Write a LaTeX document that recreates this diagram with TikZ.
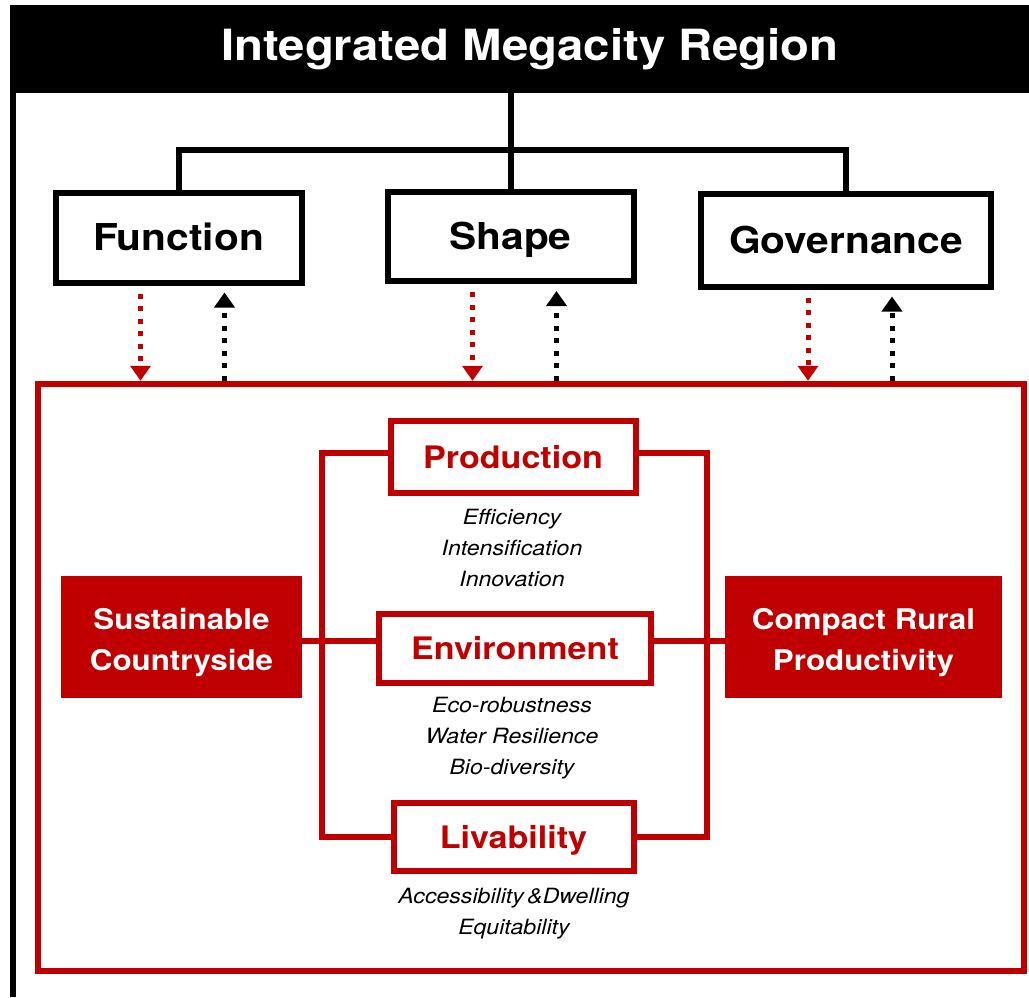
\documentclass[tikz,border=0pt]{standalone}
\usepackage{fontspec}
\setmainfont{TeX Gyre Heros}[FakeStretch=1.1]
\usetikzlibrary{arrows.meta,calc}
\definecolor{dred}{RGB}{192,0,0}
\begin{document}
\begin{tikzpicture}[x=1pt,y=-1pt,
  bbox/.style={draw=black,line width=6pt,fill=white,inner sep=0pt,text height=26.6pt,text depth=0pt,font=\fontsize{37}{44}\selectfont\bfseries},
  rbox/.style={draw=dred,line width=6pt,fill=white,inner sep=0pt,text=dred,text height=22.3pt,text depth=0pt,font=\fontsize{31}{36}\selectfont\bfseries},
  fbox/.style={fill=dred,inner sep=0pt,text=white,align=center,text height=66pt,text depth=0pt,font=\fontsize{28.5}{41}\selectfont\bfseries},
  itl/.style={align=center,font=\fontsize{21}{31}\selectfont\itshape},
  blk/.style={line width=6pt,black},
  rln/.style={line width=6pt,dred},
  reddown/.style={line width=5pt,dred,dash pattern=on 5pt off 7.5pt,-{Triangle[width=20pt,length=15pt]}},
  blkup/.style={line width=5pt,black,dash pattern=on 5pt off 7.5pt,-{Triangle[width=20pt,length=15pt]}}]
\useasboundingbox (0,0) rectangle (1029,997);
% title band
\fill[black] (10,5) rectangle (1029,93);
\node[text=white,font=\fontsize{43}{50}\selectfont\bfseries] (title) at (530,49) {Integrated Megacity Region};
\draw[line width=6pt,black] (13,92) -- (13,997);
% red frame
\node[draw=dred,line width=6.5pt,minimum width=986pt,minimum height=587pt,inner sep=0pt] (frame) at (531,677.5) {};
% top boxes
\node[bbox,minimum width=246pt,minimum height=90pt] (fun) at (178.5,237.5) {Function};
\node[bbox,minimum width=246pt,minimum height=89pt] (sha) at (510.5,236.5) {Shape};
\node[bbox,minimum width=290pt,minimum height=93pt] (gov) at (846,240) {Governance};
% tree connectors
\coordinate (hub) at (510,150);
\draw[blk] (title.south -| sha.north) ++(0,-4) -- (sha.north);
\draw[blk] (fun.north) |- (hub) -| (gov.north);
% arrows
\foreach \b in {fun,sha,gov}{
  \draw[reddown] ([xshift=-38pt,yshift=-8pt]\b.south) -- ([xshift=-38pt]\b.south |- frame.north);
  \draw[blkup] ([xshift=46pt]\b.south |- frame.north) -- ([xshift=46pt,yshift=-7pt]\b.south);
}
% inner red boxes
\node[rbox,minimum width=245pt,minimum height=72pt] (pro) at (513,457) {Production};
\node[rbox,minimum width=272pt,minimum height=69pt] (env) at (515,648.5) {Environment};
\node[rbox,minimum width=240pt,minimum height=68pt] (liv) at (513.5,837) {Livability};
\node[fbox,minimum width=241pt,minimum height=122pt] (sc) at (181.5,637) {Sustainable\\Countryside};
\node[fbox,minimum width=277pt,minimum height=122pt] (crp) at (863.5,637) {Compact Rural\\Productivity};
% brackets
\coordinate (lx) at (322,0);
\coordinate (rx) at (707,0);
\draw[rln] ([yshift=4pt]pro.west) -| (lx |- liv.west) -- (liv.west);
\draw[rln] ([yshift=4pt]pro.east) -| (rx |- liv.east) -- (liv.east);
\draw[rln] ([yshift=-4pt]sc.east) -- ([yshift=-4pt]sc.east -| env.west);
\draw[rln] ([yshift=-4pt]crp.west -| env.east) -- ([yshift=-4pt]crp.west);
% italic texts
\node[itl] (t1) at (512,548) {Efficiency\\Intensification\\Innovation};
\node[itl] (t2) at (512,738) {Eco-robustness\\Water Resilience\\Bio-diversity};
\node[itl] (t3) at (514,914) {Accessibility\,\&Dwelling\\Equitability};
\end{tikzpicture}
\end{document}
